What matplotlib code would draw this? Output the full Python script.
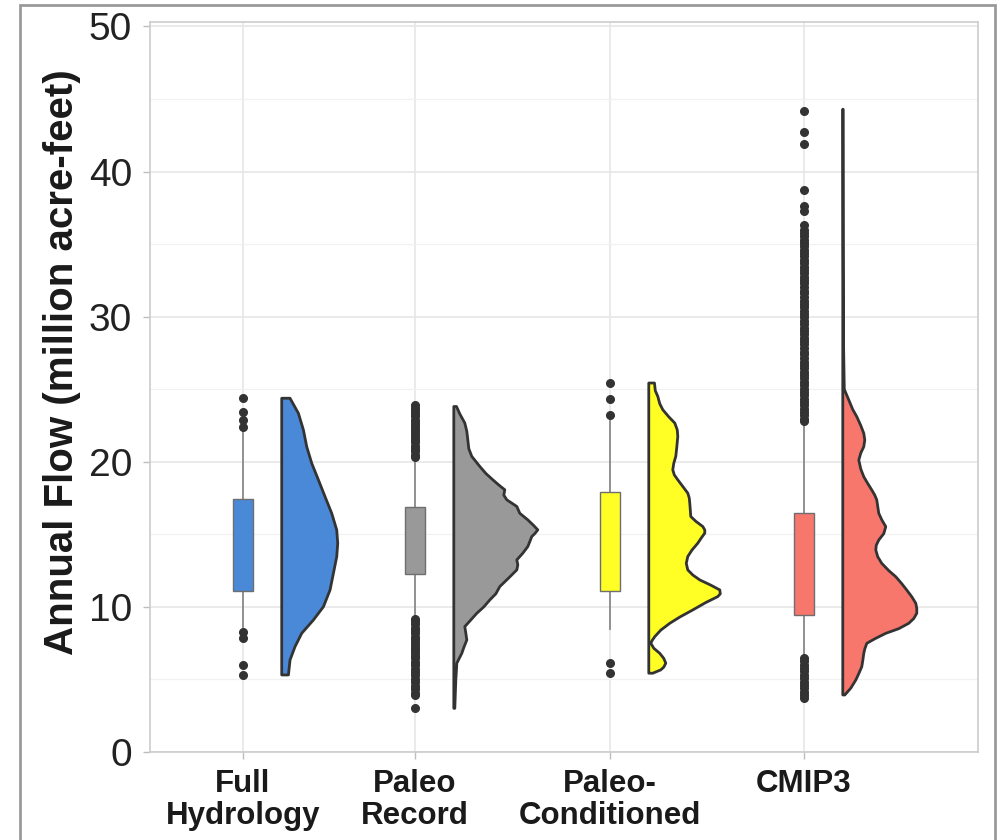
import matplotlib
matplotlib.use("Agg")
import matplotlib.pyplot as plt
from matplotlib.patches import Rectangle
import numpy as np

plt.rcParams['font.family'] = ['Liberation Sans', 'DejaVu Sans']

# categories and their (uneven) positions on the axis
labels = ["Full\nHydrology", "Paleo\nRecord", "Paleo-\nConditioned", "CMIP3"]
xpos = [1.0, 1.887, 2.892, 3.892]
fills = ["#4a88d8", "#999999", "#ffff26", "#f8776d"]

# box summaries
q1 = [11.1, 12.3, 11.13, 9.44]
med = [14.5, 14.75, 14.55, 11.9]
q3 = [17.45, 16.9, 17.95, 16.5]
wlo = [8.6, 9.2, 8.5, 6.46]
whi = [22.2, 20.3, 23.1, 22.8]

# outlying points
full_out = [24.4, 23.45, 22.9, 22.4, 8.3, 7.85, 6.0, 5.3]
paleo_out = [20.3, 20.5, 20.75, 20.9, 21.1, 21.35, 21.5, 21.7, 21.95, 22.1, 22.3,
             22.55, 22.7, 22.9, 23.15, 23.3, 23.5, 23.7, 23.9,
             9.2, 9.0, 8.8, 8.55, 8.4, 8.2, 7.95, 7.8, 7.6, 7.35, 7.2, 7.0, 6.8,
             6.6, 6.45, 6.2, 6.0, 5.75, 5.5, 5.3, 5.05, 4.8, 4.55, 4.35, 4.1,
             3.9, 3.0]
pc_out = [25.4, 24.3, 23.2, 6.15, 5.45]
cmip_out = [44.2, 42.7, 41.9, 38.7, 37.6, 37.3, 36.3, 36.0,
            35.8, 35.55, 35.3, 35.1, 34.85, 34.6, 34.4, 34.15, 33.9, 33.7,
            33.45, 33.2, 33.0, 32.75, 32.5, 32.3, 32.05, 31.8, 31.6, 31.35,
            31.1, 30.9, 30.65, 30.4, 30.2, 29.95, 29.7, 29.5, 29.25, 29.0,
            28.8, 28.55, 28.3, 28.1, 27.85, 27.6, 27.4, 27.15, 26.9, 26.7,
            26.45, 26.2, 26.0, 25.75, 25.5, 25.3, 25.05, 24.8, 24.6, 24.35,
            24.1, 23.9, 23.65, 23.4, 23.2, 22.95, 22.8,
            6.46, 6.25, 6.0, 5.8, 5.55, 5.3, 5.1, 4.85, 4.6, 4.4, 4.15, 3.9, 3.7]
outliers = [full_out, paleo_out, pc_out, cmip_out]

# half-violin profiles: flow level and density (as drawn width)
full_y = [24.38, 23.34, 22.19, 21.04, 19.9, 18.75, 17.6, 16.45, 15.3, 14.38,
          13.46, 12.32, 11.16, 10.01, 9.1, 8.18, 7.26, 6.34, 5.31]
full_d = [8.3, 16.7, 21.7, 25, 30, 36.7, 43.3, 50, 55, 56,
          55, 51.7, 48.3, 41.7, 31.7, 20, 13.3, 8.3, 6.7]
paleo_y = [23.81, 23.3, 22.67, 22.1, 21.52, 20.9, 20.37, 19.68, 19.2, 18.76,
           18.4, 18.07, 17.7, 17.38, 16.92, 16.45, 16.0, 15.6, 15.31, 15.05,
           14.85, 14.5, 14.16, 13.7, 13.24, 12.9, 12.55, 12.0, 11.4, 10.9,
           10.48, 10.0, 9.56, 9.1, 8.64, 8.2, 7.72, 7.2, 6.8, 6.12, 5.5, 4.97,
           4.0, 3.01]
paleo_d = [2.7, 6, 11, 13, 14, 15, 18, 26, 32, 39,
           45, 51, 50, 53, 63, 66, 74, 80, 84, 81,
           78, 76, 74, 69, 63, 64, 63, 55, 46, 42,
           36, 30, 23, 17, 11, 12, 13, 10, 8, 3, 2.5, 2,
           1.5, 1]
pc_y = [25.43, 24.9, 24.51, 24.0, 23.59, 23.1, 22.67, 22.2, 21.75, 21.0, 20.37,
        19.9, 19.45, 19.1, 18.76, 18.3, 17.84, 17.5, 17.15, 16.7, 16.23, 15.9,
        15.54, 15.3, 15.08, 14.8, 14.39, 13.9, 13.47, 13.0, 12.55, 12.2,
        11.86, 11.5, 11.17, 10.9, 10.71, 10.3, 9.79, 9.3, 8.87, 8.4, 7.95,
        7.7, 7.5, 7.15, 6.8, 6.45, 6.12, 5.85, 5.66, 5.43]
pc_d = [5.7, 6.5, 9, 11, 14, 20, 26, 28.5, 29, 28, 27,
        25, 24, 25.5, 29, 34, 39, 40.5, 41, 41.5, 42, 47,
        54, 56, 56, 53, 49, 43, 39, 37.5, 39, 44,
        51, 62, 71, 71.5, 69, 57, 44, 31, 21, 12, 6,
        3.5, 2, 5, 11, 15, 17, 15, 12, 4]
cmip_y = [44.3, 35.0, 28.0, 25.0, 24.26, 23.6, 23.11, 22.5, 21.96, 21.5,
          21.04, 20.6, 20.12, 19.5, 18.97, 18.5, 18.06, 17.7, 17.37, 16.9,
          16.45, 16.0, 15.53, 15.05, 14.61, 14.25, 13.92, 13.45, 13.0, 12.5,
          12.08, 11.6, 11.16, 10.7, 10.25, 9.9, 9.56, 9.2, 8.87, 8.5, 8.18,
          7.8, 7.49, 7.1, 6.8, 6.3, 5.88, 5.4, 4.96, 4.4, 3.93]
cmip_d = [0.3, 0.5, 0.8, 1.5, 6, 10, 14, 18, 21, 22,
          21, 18, 16, 18, 21, 25, 29, 32, 34, 35,
          36, 39, 43, 41, 36, 33.5, 33, 35, 39, 46,
          53, 59, 64, 69, 73, 74, 74, 71, 66, 56, 43,
          32, 24, 22, 21, 20, 19, 16, 13, 8, 2]
vio_y = [full_y, paleo_y, pc_y, cmip_y]
vio_d = [full_d, paleo_d, pc_d, cmip_d]

fig = plt.figure(figsize=(10.03, 8.4), dpi=100)
ax = fig.add_axes([150 / 1003, 1 - 752 / 840, 828 / 1003, 730 / 840])

# grid
ax.set_yticks(np.arange(0, 51, 10))
ax.set_yticks(np.arange(5, 50, 10), minor=True)
ax.grid(True, which='major', color='#e6e6e6', lw=1.2, zorder=0)
ax.grid(True, which='minor', axis='y', color='#f1f1f1', lw=0.9, zorder=0)
ax.set_axisbelow(True)

# half violins to the right of each box
offset = 0.2
scale = 1 / 194.
for i in range(4):
    y = np.array(vio_y[i])
    d = np.array(vio_d[i]) * scale
    x0 = xpos[i] + offset
    px = np.concatenate([[x0, x0], x0 + d[::-1]])
    py = np.concatenate([[y[0], y[-1]], y[::-1]])
    ax.fill(px, py, facecolor=fills[i], edgecolor='#333333', lw=2.0,
            joinstyle='round', zorder=3)

# boxes
stats = []
for i in range(4):
    stats.append(dict(med=med[i], q1=q1[i], q3=q3[i], whislo=wlo[i],
                      whishi=whi[i], fliers=outliers[i]))
bp = ax.bxp(stats, positions=xpos, widths=0.103, patch_artist=True,
            showcaps=False, manage_ticks=False,
            boxprops=dict(edgecolor='#6e6e6e', lw=1.0),
            medianprops=dict(color='#4d4d4d', lw=1.3),
            whiskerprops=dict(color='#8a8a8a', lw=1.3),
            flierprops=dict(marker='o', markerfacecolor='#333333',
                            markeredgecolor='#333333', markersize=5.5))
for patch, c in zip(bp['boxes'], fills):
    patch.set_facecolor(c)
    patch.set_zorder(3)

ax.set_xlim(0.521, 4.789)
ax.set_ylim(0, 50.31)
ax.set_xticks(xpos)
ax.set_xticklabels(labels, fontsize=22.5, fontweight='bold', color='#1a1a1a',
                   linespacing=1.1)
ax.tick_params(axis='y', labelsize=28, colors='#bdbdbd', labelcolor='#222222',
               length=5, width=1, pad=8)
ax.tick_params(axis='x', colors='#bdbdbd', labelcolor='#1a1a1a',
               length=5, width=1, pad=7)
ax.tick_params(which='minor', length=0)
for s in ax.spines.values():
    s.set_color('#cccccc')
    s.set_linewidth(1.2)

ax.set_ylabel("Annual Flow (million acre-feet)", fontsize=29,
              fontweight='bold', color='#1a1a1a')
ax.yaxis.set_label_coords(-0.083, 0.534)

# outer frame around the figure
fig.patches.append(Rectangle((20 / 1003, -0.02), 975 / 1003, 1.02 - 5 / 840,
                             transform=fig.transFigure, fill=False,
                             edgecolor='#9a9a9a', lw=2))

fig.savefig("out.png", dpi=100)
